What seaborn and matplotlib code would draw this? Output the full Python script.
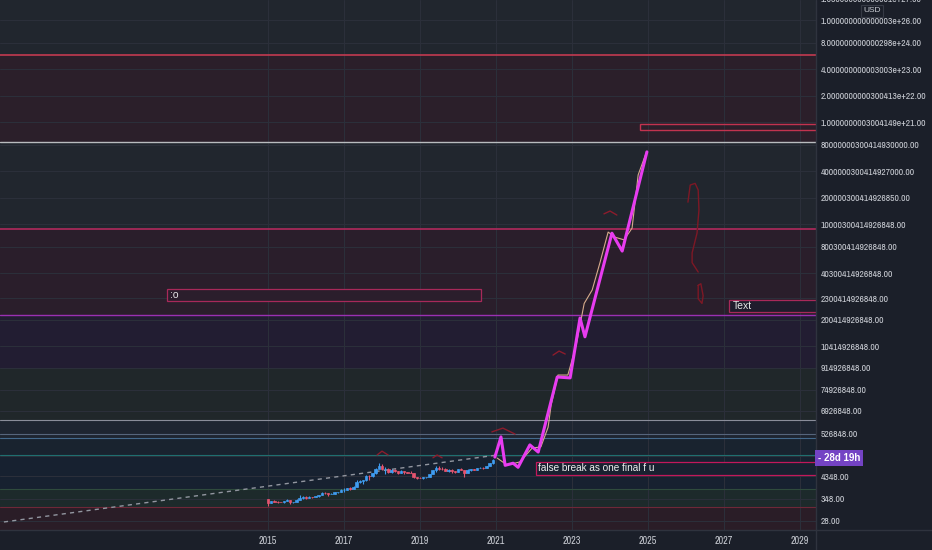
import numpy as np
import pandas as pd
import seaborn as sns
import matplotlib.pyplot as plt
from matplotlib import font_manager
from matplotlib.patches import Rectangle

# monthly candles 2015-01 .. 2020-12 (log scale)
opens = [320, 217, 254, 244, 236, 230, 263, 284, 230, 236, 314, 377,
         430, 369, 437, 416, 448, 531, 673, 624, 574, 609, 698, 742,
         963, 965, 1190, 1080, 1350, 2300, 2480, 2870, 4740, 4340, 6450, 10000,
         13800, 10200, 10300, 6900, 9240, 7490, 6400, 7730, 7030, 6630, 6370, 4040,
         3740, 3460, 3830, 4100, 5320, 8560, 10820, 10090, 9590, 8290, 9150, 7560,
         7190, 9350, 8540, 6410, 8630, 9450, 9140, 11350, 11650, 10780, 13790, 19700]
highs = [320, 265, 300, 262, 248, 268, 317, 285, 245, 335, 502, 466,
         462, 446, 440, 469, 545, 779, 704, 627, 628, 740, 755, 979,
         1150, 1200, 1290, 1380, 2760, 3000, 2930, 4770, 4980, 6470, 11500, 19700,
         17200, 11800, 11700, 9800, 9990, 7750, 8490, 7760, 7410, 7670, 6620, 4240,
         4070, 4200, 4140, 5630, 9070, 13880, 13200, 12330, 10950, 10370, 9530, 7750,
         9580, 10500, 9190, 9460, 10080, 10390, 11450, 12470, 12100, 14100, 19900, 29300]
lows = [152, 212, 235, 214, 226, 218, 253, 198, 225, 236, 300, 351,
        350, 363, 393, 412, 436, 525, 605, 470, 567, 604, 686, 741,
        755, 920, 890, 1060, 1350, 2130, 1830, 2670, 2970, 4120, 5510, 10700,
        9000, 5900, 6600, 6400, 7030, 5750, 6070, 5880, 6100, 6200, 3650, 3130,
        3400, 3360, 3730, 4080, 5330, 7440, 9080, 9320, 7710, 7300, 6520, 6430,
        6870, 8450, 3850, 6150, 8110, 8900, 8980, 10990, 9880, 10520, 13220, 17600]
closes = [217, 254, 244, 236, 230, 263, 284, 230, 236, 314, 377, 430,
          369, 437, 416, 448, 531, 673, 624, 574, 609, 698, 742, 963,
          965, 1190, 1080, 1350, 2300, 2480, 2870, 4740, 4340, 6450, 10000, 13800,
          10200, 10300, 6900, 9240, 7490, 6400, 7730, 7030, 6630, 6370, 4040, 3740,
          3460, 3830, 4100, 5320, 8560, 10820, 10090, 9590, 8290, 9150, 7560, 7190,
          9350, 8540, 6410, 8630, 9450, 9140, 11350, 11650, 10780, 13790, 19700, 28900]

# hand drawn projection (thick magenta)
proj_year = [2020.97, 2021.13, 2021.24, 2021.45, 2021.58, 2021.89, 2022.11, 2022.61,
             2022.95, 2023.21, 2023.34, 2024.05, 2024.32, 2024.97]
proj_price = [3.8e4, 3.7e5, 1.5e4, 1.9e4, 1.2e4, 1.5e5, 6.7e4, 3.2e8,
              2.9e8, 2.5e11, 3.0e10, 3.6e15, 4.8e14, 3.5e19]

# thin tan path next to it
path_year = [2021.03, 2021.29, 2021.63, 2021.95, 2022.18, 2022.37, 2022.45, 2022.63,
             2022.89, 2023.11, 2023.32, 2023.53, 2023.74, 2023.95, 2024.13, 2024.37,
             2024.58, 2024.74, 2024.95]
path_price = [3.4e4, 1.55e4, 2.2e4, 1.05e5, 1.2e5, 1.1e6, 1.35e7, 4.0e8,
              4.0e8, 1.2e10, 1.3e12, 5.9e12, 1.4e14, 4.1e15, 2.3e15, 1.7e15,
              6.4e15, 2.6e18, 3.1e19]

# dashed trend line
trend_year = [2008.05, 2021.03]
trend_price = [25, 4.8e4]

# red scribbles: little arcs over tops, a "?" and a "0"
arcs = [
    ([2017.87, 2018.0, 2018.16], [4.8e4, 7.4e4, 4.8e4]),
    ([2019.34, 2019.45, 2019.58], [3.5e4, 4.8e4, 3.5e4]),
    ([2020.89, 2021.18, 2021.5], [6.5e5, 1.0e6, 5.1e5]),
    ([2022.5, 2022.66, 2022.82], [3.8e9, 6.0e9, 4.3e9]),
    ([2023.84, 2024.0, 2024.18], [3.2e16, 4.4e16, 2.8e16]),
]
quest_year = [2026.05, 2026.11, 2026.24, 2026.32, 2026.34, 2026.29, 2026.16, 2026.16, 2026.32]
quest_price = [1.2e17, 8.3e17, 1.0e18, 4.7e17, 5.0e16, 3.7e15, 3.9e14, 1.3e14, 4.5e13]
zero_year = [2026.32, 2026.39, 2026.45, 2026.42, 2026.32, 2026.32]
zero_price = [1.0e13, 1.2e13, 3.1e12, 1.3e12, 2.2e12, 1.0e13]

# y axis labels as printed by the chart
tick_values = [28, 348, 4348, 43348, 526848, 6926848, 74926848, 914926848, 10414926848,
               200414926848, 2300414926848, 40300414926848, 800300414926848,
               10000300414926848, 2.0000030041492685e17, 4.000000300414927e18,
               8.000000030041493e19, 1.0000000003004149e21, 2.0000000000300413e22,
               4.000000000003003e23, 8.000000000000298e24, 1.000000000000003e26]
tick_labels = ['28.00', '348.00', '4348.00', '', '526848.00', '6926848.00', '74926848.00',
               '914926848.00', '10414926848.00', '200414926848.00', '2300414926848.00',
               '40300414926848.00', '800300414926848.00', '10000300414926848.00',
               '200000300414926850.00', '4000000300414927000.00',
               '80000000300414930000.00', '1.0000000003004149e+21.00',
               '2.0000000000300413e+22.00', '4.000000000003003e+23.00',
               '8.000000000000298e+24.00', '1.000000000000003e+26.00']
year_ticks = [2015, 2017, 2019, 2021, 2023, 2025, 2027, 2029]

# horizontal zones and levels
zones = [(10, 136, '#2a1d27'), (136, 1040, '#1d2a2b'), (1040, 4.8e4, '#172130'),
         (4.8e4, 3.3e5, '#19232f'), (3.3e5, 2.5e6, '#1e2531'), (2.5e6, 8.9e8, '#20272a'),
         (8.9e8, 3.5e11, '#221d32'), (3.5e11, 5.8e15, '#2a1e2b'), (1.95e24, 1.07e20, '#2b1f2a')]
levels = [(1.95e24, '#c23a50', 1.2), (1.07e20, '#b9bcbf', 1.0), (5.8e15, '#b0295c', 1.2),
          (3.5e11, '#9b30b2', 1.0), (2.5e6, '#8a8d9a', 0.8), (5.2e5, '#56657c', 0.8),
          (3.3e5, '#44698c', 0.8), (4.8e4, '#1f6f70', 0.8), (1040, '#2f4b3d', 0.8),
          (136, '#6e2838', 0.8)]

sns.set_style('dark')
plt.rcParams['font.family'] = ['Liberation Sans', 'DejaVu Sans']

# pick a narrow face for the price scale if one is installed
fonts = font_manager.fontManager.ttflist
axis_font = 'Liberation Sans'
for f in fonts:
    if 'Narrow' in f.name or 'Condensed' in f.name:
        axis_font = f.name
        break

bg = '#21262e'
panel = '#1b1f29'
label_color = '#c8cbd2'
fig = plt.figure(figsize=(9.32, 5.5), dpi=100, facecolor=panel)
ax = fig.add_axes([0, 20 / 550, 816 / 932, 530 / 550])
ax.set_facecolor(bg)
ax.set_yscale('log')
ax.set_xlim(2007.947, 2029.42)
ax.set_ylim(10.1, 9.8e26)

for lo, hi, c in zones:
    ax.axhspan(lo, hi, color=c, lw=0, zorder=0)
for v in tick_values:
    ax.axhline(v, color='#2c303b', lw=0.7, zorder=0.5)
for yr in year_ticks:
    ax.axvline(yr, color='#2c303b', lw=0.7, zorder=0.5)
for v, c, w in levels:
    ax.axhline(v, color=c, lw=w, zorder=1)

# boxes with notes
ax.add_patch(Rectangle((2024.79, 4.1e20), 6, 8.1e20 - 4.1e20, fill=False,
                       ec='#c2334f', lw=1, zorder=2))
ax.add_patch(Rectangle((2012.34, 1.7e12), 2020.6 - 2012.34, 6.6e12 - 1.7e12,
                       fc='#2b1e2c', ec='#a8295a', lw=0.9, zorder=2))
ax.text(2012.42, 3.3e12, ':o', color='#e6e6e6', fontsize=7.5, va='center', zorder=3)
ax.add_patch(Rectangle((2027.13, 5.0e11), 6, 2.0e12 - 5.0e11,
                       fc='#1f1c2c', ec='#a8295a', lw=0.9, zorder=2))
ax.text(2027.22, 1.0e12, 'Text', color='#e6e6e6', fontsize=7.5, va='center', zorder=3)
ax.add_patch(Rectangle((2022.05, 5000), 10, 2.2e4 - 5000,
                       fc='#182130', ec='#c2185b', lw=0.9, zorder=2))
ax.text(2022.1, 1.05e4, 'false break as one final f u', color='#eeeeee', fontsize=7.2,
        va='center', zorder=3)

# trend line
sns.lineplot(x=trend_year, y=trend_price, ax=ax, color='#9296a0', lw=1,
             linestyle=(0, (3, 3)), zorder=3)

# candles
df = pd.DataFrame({'date': pd.date_range('2015-01-01', periods=len(opens), freq='MS'),
                   'open': opens, 'high': highs, 'low': lows, 'close': closes})
df['x'] = df['date'].dt.year + (df['date'].dt.month - 1) / 12
df['color'] = np.where(df['close'] >= df['open'], '#3f9cf0', '#e4546f')
cols = df['color'].tolist()
ax.vlines(df['x'], df['low'], df['high'], colors=cols, lw=0.8, zorder=4)
ax.bar(df['x'], (df['close'] - df['open']).abs(), bottom=df[['open', 'close']].min(axis=1),
       width=0.065, color=cols, edgecolor=cols, linewidth=0.5, zorder=4)

# scribbles
for xs, ys in arcs:
    sns.lineplot(x=xs, y=ys, ax=ax, color='#8c1c2c', lw=1, sort=False, estimator=None, zorder=3)
sns.lineplot(x=quest_year, y=quest_price, ax=ax, color='#7d1825', lw=1, sort=False,
             estimator=None, zorder=3)
sns.lineplot(x=zero_year, y=zero_price, ax=ax, color='#7d1825', lw=1, sort=False,
             estimator=None, zorder=3)

sns.lineplot(x=path_year, y=path_price, ax=ax, color='#d6ab8c', lw=0.8, sort=False,
             estimator=None, zorder=5)
sns.lineplot(x=proj_year, y=proj_price, ax=ax, color='#e83cf0', lw=2.2, sort=False,
             estimator=None, zorder=6)

# axes styling
ax.yaxis.tick_right()
ax.set_yticks(tick_values)
ax.set_yticklabels(tick_labels)
ax.set_yticks([], minor=True)
ax.set_xticks(year_ticks)
ax.set_xticklabels([str(y) for y in year_ticks])
ax.tick_params(axis='y', length=0, pad=3.5, colors=label_color, labelsize=7)
ax.tick_params(axis='x', length=0, pad=4, colors=label_color, labelsize=7.5)
for lab in ax.get_yticklabels() + ax.get_xticklabels():
    lab.set_fontfamily(axis_font)
ax.grid(False)
for s in ax.spines.values():
    s.set_visible(False)
ax.set_xlabel('')
ax.set_ylabel('')

# shrink the price labels until the longest fits the 106 px wide scale
fig.canvas.draw()
r = fig.canvas.get_renderer()
widest = max(t.get_window_extent(r).width for t in ax.get_yticklabels())
axis_size = min(7.0, 7.0 * 105 / widest)
ax.tick_params(axis='y', labelsize=axis_size)
year_w = max(t.get_window_extent(r).width for t in ax.get_xticklabels())
ax.tick_params(axis='x', labelsize=min(8.0, 7.5 * 18.5 / year_w))

# separators and price-scale extras
fig.add_artist(plt.Line2D([816 / 932, 816 / 932], [0, 1], color='#2f333e', lw=1))
fig.add_artist(plt.Line2D([0, 1], [20 / 550, 20 / 550], color='#2f333e', lw=1))
fig.text(821 / 932, 1 + 1 / 550, '1.050000000000001e+27.00', color=label_color,
         fontsize=axis_size, family=axis_font, va='center', ha='left')
fig.text(872 / 932, 1 - 11 / 550, 'USD', color=label_color, fontsize=6, ha='center',
         va='center', zorder=10,
         bbox=dict(boxstyle='square,pad=0.25', fc=panel, ec='#363a45', lw=0.8))
fig.text(818 / 932, 1 - 458 / 550, '- 28d 19h', color='white', fontsize=7,
         fontweight='bold', ha='left', va='center', zorder=10,
         bbox=dict(boxstyle='square,pad=0.3', fc='#7443c4', ec='none'))

fig.savefig('out.png', dpi=100, facecolor=panel)
